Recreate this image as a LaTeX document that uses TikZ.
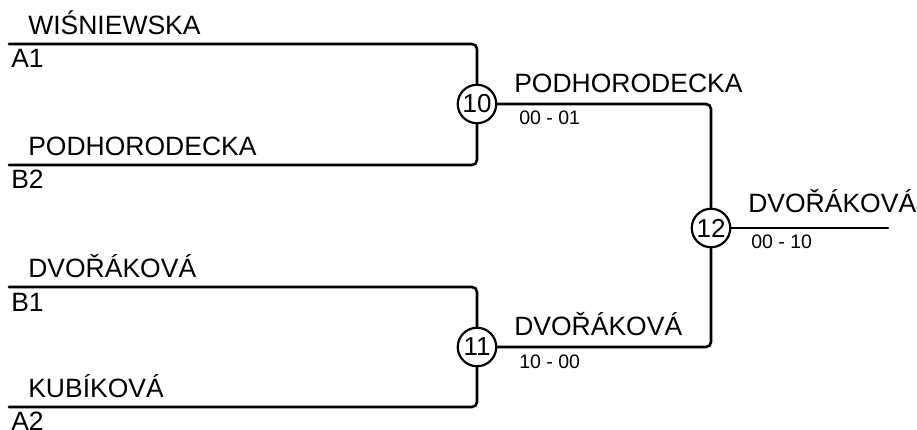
\documentclass[tikz,border=0pt]{standalone}
\usepackage{fontspec}
\setmainfont{Liberation Sans}

\begin{document}
\begin{tikzpicture}[x=1pt,y=-1pt,line width=2.6pt,line cap=round]
  \tikzstyle{every node}=[inner sep=0pt]
  \tikzstyle{match}=[circle,draw,line width=2.2pt,fill=white,minimum size=38.5pt,
                     font=\fontsize{26}{28}\selectfont]
  \tikzstyle{player}=[anchor=base west,font=\fontsize{26.5}{30}\selectfont]
  \tikzstyle{seed}=[anchor=base west,font=\fontsize{26.5}{30}\selectfont]
  \tikzstyle{score}=[anchor=base west,font=\fontsize{19.5}{22}\selectfont]
  \tikzstyle{bracket}=[rounded corners=5pt]

  \useasboundingbox (0,0) rectangle (917,430);

  % first round
  \coordinate (a1) at (9,44);
  \coordinate (b2) at (9,165);
  \coordinate (b1) at (9,287);
  \coordinate (a2) at (9,407);

  \node[player] (p1) at (27,35)  {WIŚNIEWSKA};
  \node[seed]   (s1) at (10,68)  {A1};
  \node[player] (p2) at (27,156) {PODHORODECKA};
  \node[seed]   (s2) at (10,189) {B2};
  \node[player] (p3) at (27,277) {DVOŘÁKOVÁ};
  \node[seed]   (s3) at (10,311) {B1};
  \node[player] (p4) at (27,397) {KUBÍKOVÁ};
  \node[seed]   (s4) at (10,430) {A2};

  % matches
  \node[match] (m10) at (477,104) {10};
  \node[match] (m11) at (477,347) {11};
  \node[match] (m12) at (711,228) {12};
  \coordinate (fin) at (888,228);

  \node[player] (w10) at (513,93)  {PODHORODECKA};
  \node[score]  (r10) at (518,125) {00 - 01};
  \node[player] (w11) at (513,335) {DVOŘÁKOVÁ};
  \node[score]  (r11) at (518,368) {10 - 00};
  \node[player] (w12) at (747,213) {DVOŘÁKOVÁ};
  \node[score]  (r12) at (750,248) {00 - 10};

  \draw[bracket] (a1) -| (m10);
  \draw[bracket] (b2) -| (m10);
  \draw[bracket] (b1) -| (m11);
  \draw[bracket] (a2) -| (m11);
  \draw[bracket] (m10) -| (m12);
  \draw[bracket] (m11) -| (m12);
  \draw (m12) -- (fin);

\end{tikzpicture}
\end{document}
